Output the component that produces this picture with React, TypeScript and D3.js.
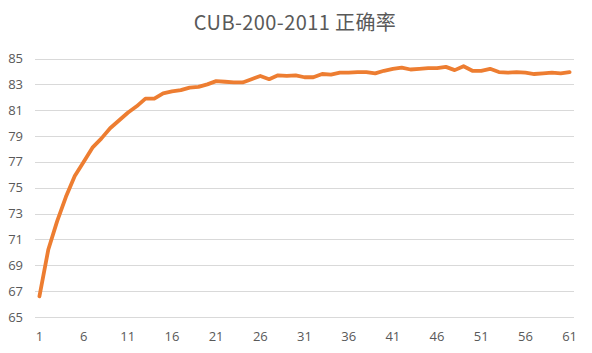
import React, { useRef, useEffect } from 'react';
import * as d3 from 'd3';

const title = 'CUB-200-2011 正确率';

// accuracy for each epoch 1..61
const accuracy = [
  66.6, 70.2, 72.4, 74.3, 75.9, 77.0, 78.1, 78.8, 79.6, 80.2,
  80.8, 81.3, 81.9, 81.9, 82.3, 82.45, 82.55, 82.75, 82.8, 83.0,
  83.25, 83.2, 83.15, 83.15, 83.4, 83.65, 83.4, 83.7, 83.65, 83.7,
  83.55, 83.55, 83.8, 83.75, 83.9, 83.9, 83.95, 83.95, 83.85, 84.05,
  84.2, 84.3, 84.15, 84.2, 84.25, 84.25, 84.35, 84.1, 84.4, 84.05,
  84.05, 84.2, 83.95, 83.9, 83.95, 83.9, 83.8, 83.85, 83.9, 83.85,
  83.95,
];

const epochs = accuracy.map((_, i) => i + 1);
const yTicks = [65, 67, 69, 71, 73, 75, 77, 79, 81, 83, 85];
const xTickLabels = [1, 6, 11, 16, 21, 26, 31, 36, 41, 46, 51, 56, 61];

export default function App() {
  const svgRef = useRef<SVGSVGElement>(null);

  useEffect(() => {
    const svg = d3.select(svgRef.current);
    svg.selectAll('*').remove();

    const width = 592;
    const height = 353;
    const left = 35, right = 574, top = 58.5, bottom = 317;

    svg.attr('width', width).attr('height', height);

    const x = d3.scaleBand<number>()
      .domain(epochs)
      .range([left, right]);

    const y = d3.scaleLinear()
      .domain([65, 85])
      .range([bottom, top]);

    const labelFont = '"Open Sans", "Noto Sans", sans-serif';

    svg.append('text')
      .attr('x', 295)
      .attr('y', 30)
      .attr('text-anchor', 'middle')
      .attr('fill', '#595959')
      .style('font-family', '"Noto Sans CJK SC", "Noto Sans", sans-serif')
      .style('font-size', '20px')
      .style('letter-spacing', '0.4px')
      .text(title);

    svg.append('g')
      .selectAll('line')
      .data(yTicks)
      .enter()
      .append('line')
      .attr('x1', left)
      .attr('x2', right)
      .attr('y1', d => Math.round(y(d)) + 0.5)
      .attr('y2', d => Math.round(y(d)) + 0.5)
      .attr('stroke', '#d9d9d9')
      .attr('stroke-width', 1);

    svg.append('g')
      .selectAll('text')
      .data(yTicks)
      .enter()
      .append('text')
      .attr('x', 23)
      .attr('y', d => y(d) + 4.5)
      .attr('text-anchor', 'end')
      .attr('fill', '#595959')
      .style('font-family', labelFont)
      .style('font-size', '13px')
      .text(d => d);

    svg.append('g')
      .selectAll('text')
      .data(xTickLabels)
      .enter()
      .append('text')
      .attr('x', d => (x(d) ?? 0) + x.bandwidth() / 2)
      .attr('y', 341)
      .attr('text-anchor', 'middle')
      .attr('fill', '#595959')
      .style('font-family', labelFont)
      .style('font-size', '13px')
      .text(d => d);

    const line = d3.line<number>()
      .x((d, i) => (x(epochs[i]) ?? 0) + x.bandwidth() / 2)
      .y(d => y(d));

    svg.append('path')
      .datum(accuracy)
      .attr('d', line)
      .attr('fill', 'none')
      .attr('stroke', '#ed7d31')
      .attr('stroke-width', 3.8)
      .attr('stroke-linejoin', 'round')
      .attr('stroke-linecap', 'round');
  }, []);

  return (
    <div style={{ position: 'absolute', left: 0, top: 0 }}>
      <svg ref={svgRef}></svg>
    </div>
  );
}
